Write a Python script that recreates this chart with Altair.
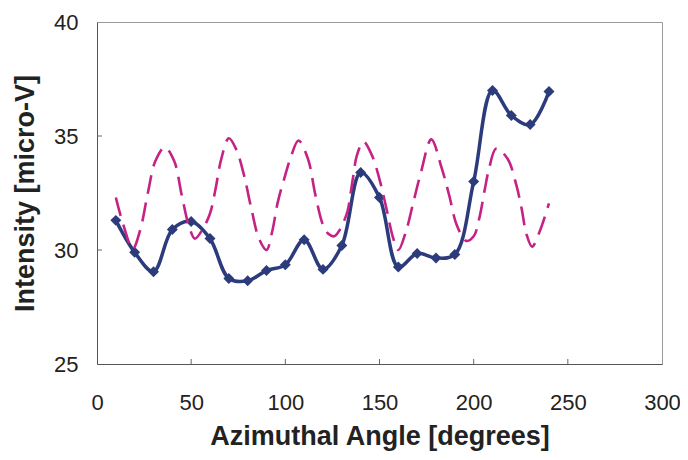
import altair as alt
import pandas as pd

# Measured series (blue, diamonds)
blue_angle = [10, 20, 30, 40, 50, 60, 70, 80, 90, 100, 110, 120,
              130, 140, 150, 160, 170, 180, 190, 200, 210, 220, 230, 240]
blue_val = [31.3, 29.9, 29.05, 30.9, 31.25, 30.5, 28.75, 28.65, 29.1, 29.35, 30.45, 29.15,
            30.2, 33.4, 32.3, 29.25, 29.85, 29.65, 29.8, 33.0, 37.0, 35.9, 35.5, 36.95]

# Dashed magenta curve
mag_angle = [10, 14, 19, 23, 27, 31, 36, 41, 45, 49, 52, 56, 60, 63, 66, 70,
             74, 78, 82, 86, 90, 93, 96, 100, 103, 107, 112, 116, 120, 123, 126,
             129, 133, 134.5, 136, 138, 141.5, 146, 150, 154, 157, 160, 164, 168,
             172, 177.5, 183, 187, 191, 196, 200, 203, 206, 208, 212, 218, 222.5,
             225.5, 228, 231, 235, 240]
mag_val = [32.3, 31.1, 30.05, 30.9, 32.5, 33.9, 34.5, 33.9, 32.4, 31.0, 30.5, 30.9,
           31.6, 32.7, 34.0, 34.9, 34.4, 33.3, 31.8, 30.5, 30.0, 30.8, 32.1, 33.3,
           34.1, 34.8, 34.0, 32.4, 31.1, 30.7, 30.6, 30.9, 31.7, 32.4, 33.2, 34.15,
           34.75, 34.15, 33.1, 31.7, 30.6, 30.0, 30.8, 32.1, 33.4, 34.85, 33.6, 32.4,
           31.1, 30.4, 30.6, 31.4, 32.7, 33.5, 34.45, 34.0, 32.9, 31.8, 30.7, 30.15,
           30.8, 32.05]

x_ticks = [0, 50, 100, 150, 200, 250, 300]
y_ticks = [25, 30, 35, 40]
x_inner_ticks = [50, 100, 150, 200, 250]
y_inner_ticks = [30, 35]

W, H = 565, 342
FONT = "Liberation Sans"
BLUE = "#2b3b7c"
MAGENTA = "#c42284"

blue_df = pd.DataFrame({"angle": blue_angle, "val": blue_val})
mag_df = pd.DataFrame({"angle": mag_angle, "val": mag_val})

xscale = alt.Scale(domain=[0, 300], nice=False, zero=False)
yscale = alt.Scale(domain=[25, 40], nice=False, zero=False)

xaxis = alt.Axis(values=x_ticks, title="Azimuthal Angle [degrees]", grid=False,
                 ticks=False, tickSize=0, labelPadding=28, titlePadding=10,
                 labelFontSize=22, titleFontSize=27, labelFont=FONT, titleFont=FONT,
                 titleFontWeight="bold", labelColor="#222222", titleColor="#222222",
                 domainColor="#555555", labelFlush=False)
yaxis = alt.Axis(values=y_ticks, title="Intensity [micro-V]", grid=False,
                 ticks=False, tickSize=0, labelPadding=19, titlePadding=14,
                 labelFontSize=22, titleFontSize=27, labelFont=FONT, titleFont=FONT,
                 titleFontWeight="bold", labelColor="#222222", titleColor="#222222",
                 domainColor="#555555", labelFlush=False)

blue_line = alt.Chart(blue_df).mark_line(
    color=BLUE, strokeWidth=3.5, interpolate="catmull-rom"
).encode(
    x=alt.X("angle:Q", scale=xscale, axis=xaxis),
    y=alt.Y("val:Q", scale=yscale, axis=yaxis),
)

blue_pts = alt.Chart(blue_df).mark_point(
    shape="diamond", filled=True, color=BLUE, size=120, opacity=1
).encode(
    x=alt.X("angle:Q", scale=xscale, axis=xaxis),
    y=alt.Y("val:Q", scale=yscale, axis=yaxis),
)

mag_line = alt.Chart(mag_df).mark_line(
    color=MAGENTA, strokeWidth=2.6, strokeDash=[19, 9], interpolate="catmull-rom"
).encode(
    x=alt.X("angle:Q", scale=xscale, axis=xaxis),
    y=alt.Y("val:Q", scale=yscale, axis=yaxis),
)

xt = alt.Chart(pd.DataFrame({"angle": x_inner_ticks})).mark_rule(
    color="#666666", strokeWidth=1
).encode(
    x=alt.X("angle:Q", scale=xscale, axis=xaxis),
    y=alt.value(H - 5),
    y2=alt.value(H),
)

yt = alt.Chart(pd.DataFrame({"val": y_inner_ticks})).mark_rule(
    color="#666666", strokeWidth=1
).encode(
    y=alt.Y("val:Q", scale=yscale, axis=yaxis),
    x=alt.value(0),
    x2=alt.value(5),
)

chart = alt.layer(blue_line, xt, yt, blue_pts, mag_line).properties(
    width=W, height=H,
    autosize=alt.AutoSizeParams(type="none"),
    padding={"left": 89, "top": 14, "right": 18, "bottom": 88},
    background="white",
).configure_view(
    stroke="#999999", strokeWidth=1
)

chart.save("out.html", embed_options={"renderer": "svg", "actions": False})
